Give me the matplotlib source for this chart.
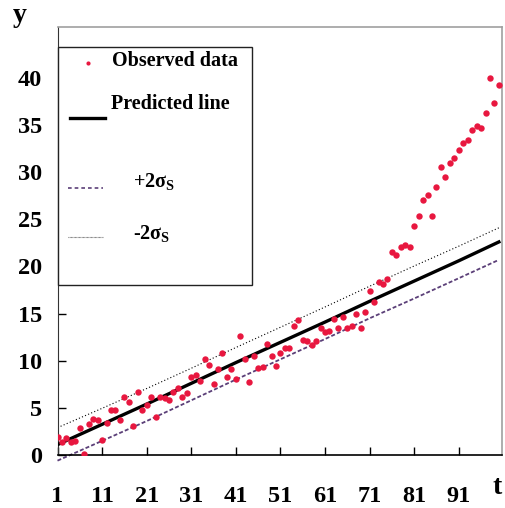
import matplotlib
matplotlib.use("Agg")
import matplotlib.pyplot as plt
from matplotlib.lines import Line2D
from matplotlib.patches import Rectangle

plt.rcParams['font.family'] = ['Liberation Serif', 'DejaVu Serif']

# Observed data, t = 1..100
t_obs = list(range(1, 101))
y_obs = [1.88, 1.42, 1.84, 1.35, 1.49, 2.9, 0.14, 3.3, 3.83, 3.69,
         1.6, 3.37, 4.79, 4.79, 3.72, 6.1, 5.67, 3.09, 6.63, 4.79,
         5.32, 6.2, 4.0, 6.2, 6.03, 5.85, 6.7, 7.1, 6.2, 6.6,
         8.27, 8.48, 7.87, 10.2, 9.5, 7.52, 9.15, 10.8, 8.26, 9.15,
         8.05, 12.6, 10.2, 7.73, 10.5, 9.22, 9.33, 11.8, 10.5, 9.47,
         10.8, 11.35, 11.35, 13.7, 14.3, 12.2, 12.05, 11.7, 12.05, 13.5,
         13.1, 13.2, 14.4, 13.5, 14.65, 13.5, 13.7, 15.0, 13.5, 15.2,
         17.4, 16.2, 18.4, 18.1, 18.7, 21.5, 21.2, 22.1, 22.3, 22.1,
         24.3, 25.4, 27.1, 27.55, 25.4, 28.4, 30.5, 29.5, 31.0, 31.5,
         32.4, 33.1, 33.4, 34.5, 34.9, 34.7, 36.3, 40.0, 37.3, 39.3]

# Predicted line and bands (read at selected t)
t_line = [1, 11, 21, 31, 41, 51, 61, 71, 81, 91, 100]
y_pred = [1.1, 3.25, 5.4, 7.6, 9.8, 11.95, 14.1, 16.3, 18.45, 20.6, 22.6]
y_upper = [2.9, 4.95, 7.05, 9.2, 11.4, 13.55, 15.7, 17.9, 20.05, 22.15, 24.1]   # dotted (-2σ label)
y_lower = [-0.6, 1.5, 3.6, 5.8, 8.0, 10.15, 12.3, 14.5, 16.6, 18.75, 20.7]     # dashed (+2σ label)

x_ticks = [1, 11, 21, 31, 41, 51, 61, 71, 81, 91]
y_ticks = [0, 5, 10, 15, 20, 25, 30, 35, 40]

RED = '#e8173f'
PURPLE = '#5b3f78'

fig = plt.figure(figsize=(5.05, 5.08), dpi=100)
ax = fig.add_axes([57.5/505, 1 - 455/508, (502 - 57.5)/505, (455 - 27)/508])

ax.plot(t_obs, y_obs, 'o', color=RED, markersize=4.6, markeredgewidth=0, zorder=4)
ax.plot(t_line, y_pred, '-', color='black', linewidth=2.4, zorder=3)
ax.plot(t_line, y_upper, linestyle=(0, (1, 2)), color='black', linewidth=0.8, zorder=2)
ax.plot(t_line, y_lower, linestyle=(0, (2.2, 1.2)), color=PURPLE, linewidth=1.3,
        zorder=2, clip_on=False)

ax.set_xlim(1, 100.7)
ax.set_ylim(0, 45.4)
ax.set_xticks(x_ticks)
ax.set_yticks(y_ticks)
ax.tick_params(axis='both', direction='in', length=6, width=1, labelsize=17.5)
ax.tick_params(axis='x', pad=22)
ax.tick_params(axis='y', pad=11)
for lab in ax.get_xticklabels() + ax.get_yticklabels():
    lab.set_fontweight('bold')

for s in ['top', 'right']:
    ax.spines[s].set_color('#a0a0a0')
    ax.spines[s].set_linewidth(1.2)
ax.spines['left'].set_color('#333333')
ax.spines['bottom'].set_color('black')
ax.spines['bottom'].set_linewidth(1.2)

fig.text(20/505, 1 - 15/508, 'y', fontsize=20, fontweight='bold', ha='center', va='center')
fig.text(497/505, 1 - 487/508, 't', fontsize=20, fontweight='bold', ha='center', va='center')

# Legend box (drawn manually to match the uneven layout)
def fx(px):
    return px / 505
def fy(py):
    return 1 - py / 508

fig.patches.append(Rectangle((fx(57.5), fy(285)), fx(252) - fx(57.5), fy(47) - fy(285),
                             transform=fig.transFigure, facecolor='white',
                             edgecolor='#222222', linewidth=1.0, zorder=10))
fig.lines.append(Line2D([fx(88)], [fy(63)], marker='o', color=RED, markersize=3,
                        markeredgewidth=0, transform=fig.transFigure, zorder=11))
fig.text(fx(112), fy(61), 'Observed data', fontsize=14.5, fontweight='bold',
         ha='left', va='center', zorder=11)
fig.lines.append(Line2D([fx(70), fx(105)], [fy(118), fy(118)], color='black', linewidth=2.4,
                        transform=fig.transFigure, zorder=11))
fig.text(fx(111), fy(104), 'Predicted line', fontsize=14.5, fontweight='bold',
         ha='left', va='center', zorder=11)
fig.lines.append(Line2D([fx(68), fx(103)], [fy(188), fy(188)], color=PURPLE, linewidth=1.2,
                        linestyle=(0, (2.2, 1.8)), transform=fig.transFigure, zorder=11))
fig.text(fx(133), fy(181), r'+2$\mathregular{\sigma_S}$', fontsize=14.5, fontweight='bold',
         ha='left', va='center', zorder=11)
fig.lines.append(Line2D([fx(68), fx(103)], [fy(237), fy(237)], color='#555555', linewidth=0.8,
                        linestyle=(0, (0.6, 0.6)), transform=fig.transFigure, zorder=11))
fig.text(fx(133), fy(233), r'-2$\mathregular{\sigma_S}$', fontsize=14.5, fontweight='bold',
         ha='left', va='center', zorder=11)

fig.savefig('out.png', dpi=100)
